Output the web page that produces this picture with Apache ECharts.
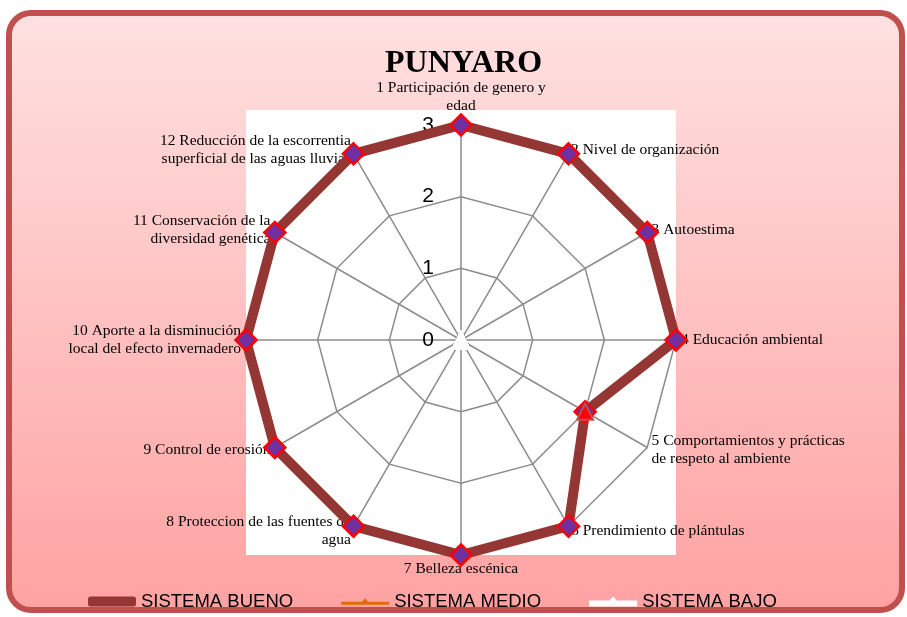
<!DOCTYPE html>
<html>
<head>
<meta charset="utf-8">
<script src="https://cdn.jsdelivr.net/npm/echarts@6/dist/echarts.min.js"></script>
<style>
  html, body { margin: 0; padding: 0; background: #fff; }
  #chart { width: 907px; height: 617px; }
</style>
</head>
<body>
<div id="chart"></div>
<script>
// Indicators (clockwise from top)
var indicators = [
    '1 Participación de genero y\nedad',
    '2 Nivel de organización',
    '3 Autoestima',
    '4 Educación ambiental',
    '5 Comportamientos y prácticas\nde respeto al ambiente',
    '6 Prendimiento de plántulas',
    '7 Belleza escénica',
    '8 Proteccion de las fuentes de\nagua',
    '9 Control de erosión',
    '10 Aporte a la disminución\nlocal del efecto invernadero',
    '11 Conservación de la\ndiversidad genética',
    '12 Reducción de la escorrentia\nsuperficial de las aguas lluvias'
];

var seriesNames = ['SISTEMA BUENO', 'SISTEMA MEDIO', 'SISTEMA BAJO'];

// values
var bueno = [3, 3, 3, 3, 2, 3, 3, 3, 3, 3, 3, 3];
var medio = ['-', '-', '-', '-', 2, '-', '-', '-', '-', '-', '-', '-'];
var bajo  = [0, 0, 0, 0, 0, 0, 0, 0, 0, 0, 0, 0];

var axisMax = 3;

// echarts radar runs counter-clockwise, so reverse everything after the first item
function clockwise(arr) {
    return [arr[0]].concat(arr.slice(1).reverse());
}

var chart = echarts.init(document.getElementById('chart'));

var indicatorList = clockwise(indicators).map(function (name, i) {
    var item = { name: name, max: axisMax, min: 0 };
    if (i === 0) {
        item.axisLabel = { show: true };
    }
    return item;
});

chart.setOption({
    animation: false,

    // background card + white plot area
    graphic: [
        {
            type: 'rect',
            z: -10,
            shape: { x: 9, y: 13, width: 893, height: 597, r: 22 },
            style: {
                fill: new echarts.graphic.LinearGradient(0, 0, 0, 1, [
                    { offset: 0, color: '#ffe1e1' },
                    { offset: 1, color: '#ffa2a2' }
                ]),
                stroke: '#c0504d',
                lineWidth: 6
            }
        },
        {
            type: 'rect',
            z: -9,
            shape: { x: 246, y: 110, width: 430, height: 445 },
            style: { fill: '#ffffff' }
        }
    ],

    title: {
        text: 'PUNYARO',
        left: 380,
        top: 43,
        textStyle: {
            fontFamily: 'Liberation Serif',
            fontWeight: 'bold',
            fontSize: 32,
            color: '#000'
        }
    },

    legend: {
        bottom: 1,
        left: 83,
        itemGap: 48,
        itemWidth: 48,
        itemHeight: 10,
        textStyle: {
            fontFamily: 'Liberation Sans',
            fontSize: 18.5,
            color: '#000'
        },
        data: [
            { name: seriesNames[0], icon: 'roundRect', itemStyle: { color: '#943634', borderWidth: 0 } },
            { name: seriesNames[1], icon: 'path://M0,3.5 L21,3.5 L24,0 L27,3.5 L48,3.5 L48,6.5 L0,6.5 Z', itemStyle: { color: '#e36c09', borderWidth: 0 } },
            { name: seriesNames[2], icon: 'path://M0,2 L20,2 L24,-2 L28,2 L48,2 L48,8 L0,8 Z', itemStyle: { color: '#ffffff', borderWidth: 0 } }
        ]
    },

    radar: {
        center: [461, 340],
        radius: 215,
        startAngle: 90,
        splitNumber: 3,
        shape: 'polygon',
        nameGap: 5,
        axisName: {
            color: '#000',
            fontFamily: 'Liberation Serif',
            fontSize: 15.5,
            lineHeight: 18
        },
        axisLine: { lineStyle: { color: '#8c8c8c', width: 1.5 } },
        splitLine: { lineStyle: { color: '#8c8c8c', width: 1.5 } },
        splitArea: { show: false },
        axisLabel: {
            show: false,
            color: '#000',
            fontFamily: 'Liberation Sans',
            fontSize: 21,
            margin: 27
        },
        indicator: indicatorList
    },

    series: [
        {
            name: seriesNames[0],
            type: 'radar',
            z: 3,
            symbol: 'diamond',
            symbolSize: 21,
            lineStyle: { color: '#943634', width: 10 },
            itemStyle: { color: '#7030a0', borderColor: '#ff0000', borderWidth: 2.5 },
            data: [{ value: clockwise(bueno), name: seriesNames[0] }]
        },
        {
            name: seriesNames[1],
            type: 'radar',
            z: 4,
            symbol: 'triangle',
            symbolSize: 16,
            lineStyle: { color: '#e36c09', width: 3, opacity: 0 },
            itemStyle: { color: '#ff0000', borderColor: '#c0504d', borderWidth: 2 },
            data: [{ value: clockwise(medio), name: seriesNames[1] }]
        },
        {
            name: seriesNames[2],
            type: 'radar',
            z: 5,
            symbol: 'triangle',
            symbolSize: 20,
            lineStyle: { color: '#ffffff', width: 8 },
            itemStyle: { color: '#ffffff' },
            data: [{ value: clockwise(bajo), name: seriesNames[2] }]
        }
    ]
});
</script>
</body>
</html>
